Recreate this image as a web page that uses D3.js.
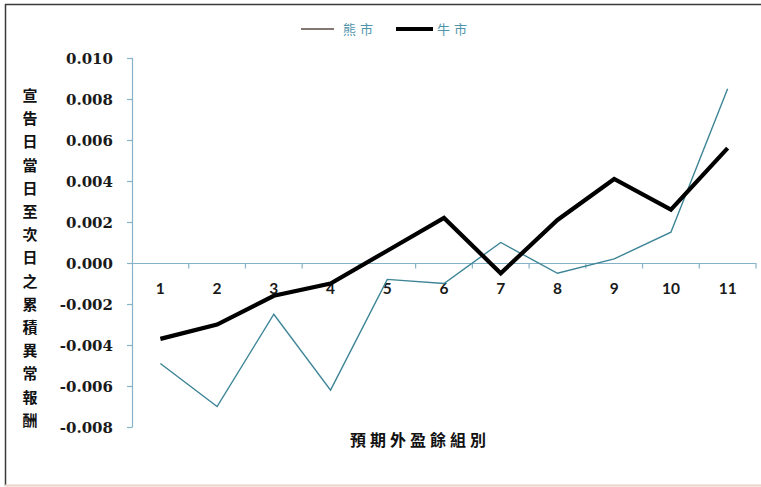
<!DOCTYPE html>
<html>
<head>
<meta charset="utf-8">
<script src="https://cdn.jsdelivr.net/npm/d3@7/dist/d3.min.js"></script>
<style>
  html, body { margin: 0; padding: 0; background: #fff; }
  svg { display: block; }
</style>
</head>
<body>
<svg id="chart" width="761" height="487"></svg>
<script>
// Earnings-surprise groups and cumulative abnormal returns (announcement day to next day)
const groups = [1, 2, 3, 4, 5, 6, 7, 8, 9, 10, 11];
const bearMarket = [-0.0049, -0.0070, -0.0025, -0.0062, -0.0008, -0.0010, 0.0010, -0.0005, 0.0002, 0.0015, 0.0085];
const bullMarket = [-0.0037, -0.0030, -0.0016, -0.0010, 0.0006, 0.0022, -0.0005, 0.0021, 0.0041, 0.0026, 0.0056];
const yTicks = [0.010, 0.008, 0.006, 0.004, 0.002, 0.000, -0.002, -0.004, -0.006, -0.008];
const seriesNames = ["熊市", "牛市"];
const yTitle = "宣告日當日至次日之累積異常報酬";
const xTitle = "預期外盈餘組別";

const svg = d3.select("#chart");
const axisColor = "#86b3c7";
const cjk = "'Noto Sans CJK TC', sans-serif";

// frame
svg.append("line").attr("x1", 5.5).attr("y1", 4).attr("x2", 5.5).attr("y2", 486)
  .attr("stroke", "#3a3a3a").attr("stroke-width", 1.5);
svg.append("line").attr("x1", 5).attr("y1", 4.5).attr("x2", 761).attr("y2", 4.5)
  .attr("stroke", "#3a3a3a").attr("stroke-width", 1.5);
svg.append("line").attr("x1", 5).attr("y1", 485.5).attr("x2", 761).attr("y2", 485.5)
  .attr("stroke", "#ecd2c8").attr("stroke-width", 2);

const x = d3.scaleBand().domain(groups).range([132, 756]).paddingInner(0).paddingOuter(0);
const y = d3.scaleLinear().domain([-0.008, 0.010]).range([427, 58]);
const y0 = y(0);

// y axis
svg.append("line").attr("x1", 132.5).attr("x2", 132.5).attr("y1", y(0.010)).attr("y2", y(-0.008))
  .attr("stroke", axisColor).attr("stroke-width", 1.2);
yTicks.forEach(t => {
  svg.append("line").attr("x1", 127).attr("x2", 132.5).attr("y1", Math.round(y(t)) + 0.5).attr("y2", Math.round(y(t)) + 0.5)
    .attr("stroke", axisColor).attr("stroke-width", 1.2);
  svg.append("text").attr("x", 113).attr("y", y(t) + 5.5)
    .attr("text-anchor", "end")
    .style("font-family", "'DejaVu Serif', serif").style("font-weight", "bold")
    .style("font-size", "15px").attr("fill", "#1a1a1a")
    .text(d3.format(".3f")(t).replace("−", "-"));
});

// x axis along zero
svg.append("line").attr("x1", 132).attr("x2", 756).attr("y1", Math.round(y0) + 0.5).attr("y2", Math.round(y0) + 0.5)
  .attr("stroke", axisColor).attr("stroke-width", 1.2);
const edges = groups.map(g => x(g)).concat([x(groups[groups.length - 1]) + x.bandwidth()]);
edges.slice(1).forEach(e => {
  svg.append("line").attr("x1", e).attr("x2", e).attr("y1", y0).attr("y2", y0 + 5.5)
    .attr("stroke", axisColor).attr("stroke-width", 1.2);
});
groups.forEach(g => {
  svg.append("text").attr("x", x(g) + x.bandwidth() / 2).attr("y", y0 + 31)
    .attr("text-anchor", "middle")
    .style("font-family", "Lato, sans-serif").style("font-weight", "bold")
    .style("font-size", "15.5px").attr("fill", "#1a1a1a")
    .text(g);
});

const cx = g => x(g) + x.bandwidth() / 2;
const line = d3.line().x(d => cx(d.g)).y(d => y(d.v));

// bear market series (thin)
svg.append("path")
  .datum(groups.map((g, i) => ({ g, v: bearMarket[i] })))
  .attr("d", line).attr("fill", "none")
  .attr("stroke", "#3c8496").attr("stroke-width", 1.4).attr("stroke-linejoin", "miter");

// bull market series (thick)
svg.append("path")
  .datum(groups.map((g, i) => ({ g, v: bullMarket[i] })))
  .attr("d", line).attr("fill", "none")
  .attr("stroke", "#000").attr("stroke-width", 4.2).attr("stroke-linejoin", "miter");

// legend
const legend = svg.append("g");
legend.append("line").attr("x1", 301).attr("x2", 334).attr("y1", 29).attr("y2", 29)
  .attr("stroke", "#5a4a44").attr("stroke-width", 1.3);
legend.append("text").attr("x", 343).attr("y", 34)
  .style("font-family", cjk).style("font-size", "13px")
  .attr("letter-spacing", 4).attr("fill", "#4f93ab").text(seriesNames[0]);
legend.append("line").attr("x1", 396).attr("x2", 433).attr("y1", 29).attr("y2", 29)
  .attr("stroke", "#000").attr("stroke-width", 4);
legend.append("text").attr("x", 437).attr("y", 34)
  .style("font-family", cjk).style("font-size", "13px")
  .attr("letter-spacing", 4).attr("fill", "#4f93ab").text(seriesNames[1]);

// vertical y-axis title, one character per row
Array.from(yTitle).forEach((c, i) => {
  svg.append("text").attr("x", 30).attr("y", 95 + i * 23.2 + 6)
    .attr("text-anchor", "middle")
    .style("font-family", cjk).style("font-weight", "bold")
    .style("font-size", "15px").attr("fill", "#111")
    .text(c);
});

// x-axis title
svg.append("text").attr("x", 420).attr("y", 446)
  .attr("text-anchor", "middle")
  .style("font-family", cjk).style("font-weight", "bold")
  .style("font-size", "16px").attr("letter-spacing", 4).attr("fill", "#111")
  .text(xTitle);
</script>
</body>
</html>
